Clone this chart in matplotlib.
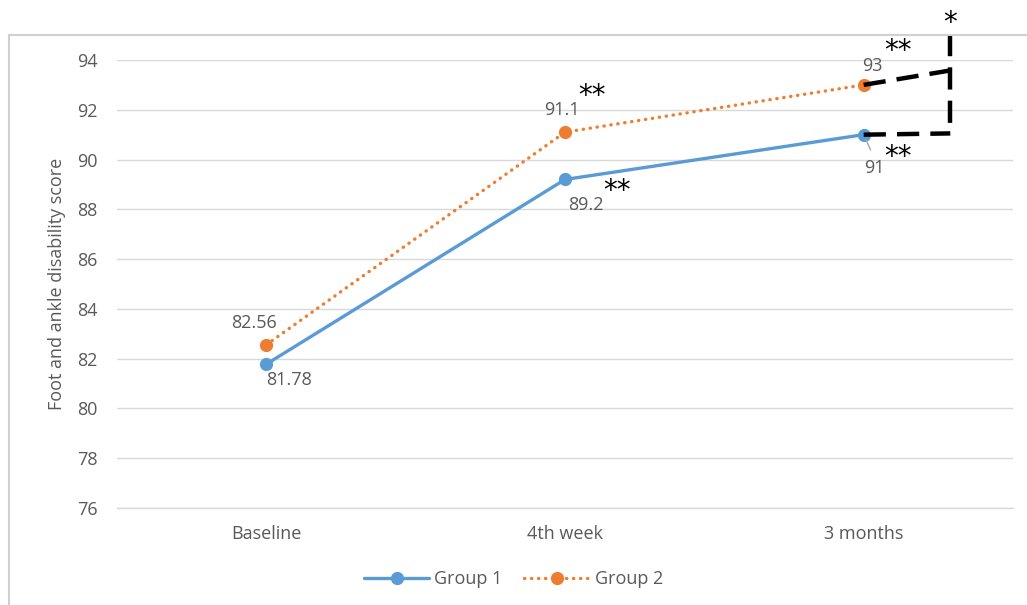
import numpy as np
import matplotlib.pyplot as plt
from matplotlib.patches import Rectangle

plt.rcParams['font.family'] = ['Open Sans', 'DejaVu Sans']

# Scores moyens par groupe
categories = ["Baseline", "4th week", "3 months"]
group1 = [81.78, 89.2, 91]
group2 = [82.56, 91.1, 93]
yticks = [76, 78, 80, 82, 84, 86, 88, 90, 92, 94]

# decalages des etiquettes (points)
off1 = [(16.6, -11.5), (15, -18.7), (7.9, -23.8)]
off2 = [(-8.6, 15.8), (-2.2, 15.8), (6.5, 13.7)]

blue = '#5B9BD5'
orange = '#ED7D31'
grey_txt = '#595959'
grid_col = '#D9D9D9'
fs = 13

fig = plt.figure(figsize=(10.27, 6.05), dpi=100)
ax = fig.add_axes([117/1027, 1 - 508/605, 896/1027, 448/605])

x = np.arange(len(categories))
ax.plot(x, group1, color=blue, lw=2.4, marker='o', ms=8.5, label="Group 1",
        solid_capstyle='round', zorder=3)
ax.plot(x, group2, color=orange, lw=2.4, ls=(0, (0.1, 2.0)), dash_capstyle='round',
        marker='o', ms=8.5, label="Group 2", zorder=3)

# etiquettes de valeurs
for i in range(len(categories)):
    ax.annotate(f"{group1[i]:g}", (x[i], group1[i]), xytext=off1[i],
                textcoords='offset points', ha='center', va='center',
                fontsize=fs, color=grey_txt)
    ax.annotate(f"{group2[i]:g}", (x[i], group2[i]), xytext=off2[i],
                textcoords='offset points', ha='center', va='center',
                fontsize=fs, color=grey_txt)

# trait de rappel pour "91"
ax.annotate("", (x[2], group1[2]), xytext=(5.0, -11.0), textcoords='offset points',
            arrowprops=dict(arrowstyle='-', color='#A6A6A6', lw=1, shrinkA=0, shrinkB=4))

# lignes de comparaison
xb = 2.29
dash = (0, (5, 2.5))
ax.plot([2, xb], [93, 93.58], color='black', lw=3.2, ls=dash, clip_on=False, zorder=4)
ax.plot([2, xb], [91, 91.05], color='black', lw=3.2, ls=dash, clip_on=False, zorder=4)
ax.plot([xb, xb], [95.05, 91.05], color='black', lw=3.2, ls=dash, clip_on=False, zorder=4)

# significativite
stars = [("**", 1.090, 92.55), ("**", 1.174, 88.74), ("**", 2.115, 94.36),
         ("**", 2.115, 90.10), ("*", xb, 95.49)]
for s, sx, sy in stars:
    ax.text(sx, sy, s, ha='center', va='center', fontsize=20, color='black',
            family='DejaVu Sans', clip_on=False)

ax.set_xlim(-0.5, 2.5)
ax.set_ylim(76, 94)
ax.set_yticks(yticks)
ax.set_xticks(x)
ax.set_xticklabels(categories)
ax.tick_params(length=0, labelsize=fs, labelcolor=grey_txt)
ax.tick_params(axis='y', pad=14)
ax.tick_params(axis='x', pad=12)
ax.grid(axis='y', color=grid_col, lw=1)
ax.set_axisbelow(True)
for sp in ax.spines.values():
    sp.set_visible(False)
ax.spines['bottom'].set_visible(True)
ax.spines['bottom'].set_color(grid_col)
ax.spines['bottom'].set_linewidth(1)
ax.set_ylabel("Foot and ankle disability score", fontsize=fs, color=grey_txt, labelpad=8)

fig.legend(loc='center', bbox_to_anchor=(0.5, 1 - 579/605), ncol=2, frameon=False,
           fontsize=fs, labelcolor=grey_txt, handlelength=3.6, columnspacing=1.2,
           handletextpad=0.3)

# cadre du graphique
fig.add_artist(Rectangle((9/1027, -0.1), 1.2, 1 - 35/605 + 0.1, transform=fig.transFigure,
                         fill=False, edgecolor='#D0D0D0', lw=1.5))

fig.savefig("out.png", dpi=100)
